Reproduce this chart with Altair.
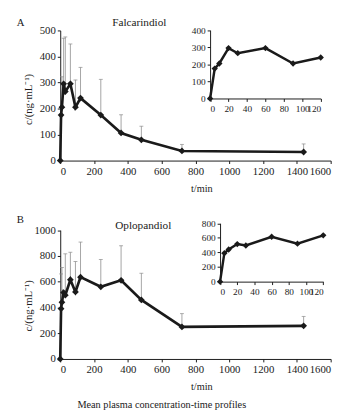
import altair as alt
import pandas as pd

FONT = "Liberation Serif"
INK = "#1a1a1a"
GREY = "#8c8c8c"

# ---- data ----
times = [0, 5, 10, 20, 30, 60, 90, 120, 240, 360, 480, 720, 1440]
a_mean = [0, 175, 205, 295, 265, 295, 205, 240, 175, 106, 80, 37, 33]
a_upper = [None, None, 322, 470, 475, 448, 310, 358, 312, 176, 132, 62, 64]
b_mean = [0, 390, 440, 515, 495, 615, 520, 635, 560, 610, 458, 249, 257]
b_upper = [None, 660, 710, None, 816, 828, 756, 907, 772, 879, 665, 352, 330]

main_x_ticks = [0, 200, 400, 600, 800, 1000, 1200, 1400, 1600]
inset_x_ticks = [0, 20, 40, 60, 80, 100, 120]
a_y_ticks = [0, 100, 200, 300, 400, 500]
a_inset_y_ticks = [0, 100, 200, 300, 400]
b_y_ticks = [0, 200, 400, 600, 800, 1000]
b_inset_y_ticks = [0, 200, 400, 600, 800]

W = 277          # plot-area width
H = 336.5        # plot-area height (both panels)


def text_layer(txt, x, y, size=11, angle=0, align="left", style="normal"):
    return alt.Chart(pd.DataFrame({"k": [0]})).mark_text(
        text=txt, font=FONT, fontSize=size, angle=angle, align=align,
        baseline="middle", color=INK, fontStyle=style
    ).encode(x=alt.value(x), y=alt.value(y))


def series(mean, upper, xdom, xr, ydom, yr, xticks, yticks, x_pos, y_pos,
           with_err, lsize, lw, psize, tmax=None):
    df = pd.DataFrame({"t": times, "c": mean, "u": upper})
    if tmax is not None:
        df = df[df["t"] <= tmax]
    xs = alt.Scale(domain=xdom, range=xr, nice=False)
    ys = alt.Scale(domain=ydom, range=yr, nice=False)
    xax = alt.Axis(values=xticks, title=None, orient="bottom", format="d",
                   offset=y_pos - H, labelOverlap=False, labelFontSize=lsize)
    yax = alt.Axis(values=yticks, title=None, orient="left", format="d",
                   offset=-x_pos, labelFontSize=lsize)
    X = alt.X("t:Q", scale=xs, axis=xax)
    base = alt.Chart(df)
    layers = []
    if with_err:
        ev = base.transform_filter("isValid(datum.u)")
        layers.append(ev.mark_rule(color=GREY, strokeWidth=0.8).encode(
            x=X, y=alt.Y("c:Q", scale=ys, axis=yax), y2="u:Q"))
        layers.append(ev.mark_tick(orient="horizontal", size=4, thickness=1,
                                   color=GREY).encode(
            x=X, y=alt.Y("u:Q", scale=ys, axis=yax)))
    layers.append(base.mark_line(color=INK, strokeWidth=lw).encode(
        x=X, y=alt.Y("c:Q", scale=ys, axis=yax)))
    layers.append(base.mark_point(shape="diamond", filled=True, size=psize,
                                  color=INK, opacity=1).encode(
        x=X, y=alt.Y("c:Q", scale=ys, axis=yax)))
    return alt.layer(*layers)


# panel A (plot area y 0 .. 133.3)
a_main = series(a_mean, a_upper, [0, 1600], [0, W], [0, 500], [133.3, 0],
                main_x_ticks, a_y_ticks, 0, 133.3, True, 11, 2.7, 48)
a_ins = series(a_mean, a_upper, [0, 120], [153.5, 266.8], [0, 400], [69.7, -0.3],
               inset_x_ticks, a_inset_y_ticks, 153.5, 69.7, False, 9.5, 2.5, 42,
               tmax=120)
# panel B (plot area y 204.5 .. 336.5)
b_main = series(b_mean, b_upper, [0, 1600], [0, W], [0, 1000], [336.5, 204.5],
                main_x_ticks, b_y_ticks, 0, 336.5, True, 11, 2.7, 48)
b_ins = series(b_mean, b_upper, [0, 120], [163.7, 269.4], [0, 800], [257.3, 197.5],
               inset_x_ticks, b_inset_y_ticks, 163.7, 257.3, False, 9.5, 2.5, 42,
               tmax=120)

texts = [
    text_layer("A", -44.5, -8),
    text_layer("Falcarindiol", 81, -8, size=11.5, align="center"),
    text_layer("c/(ng·mL⁻¹)", -31.5, 70.7, angle=270, align="center"),
    text_layer("t/min", 145, 162.3, size=10.5, align="center"),
    text_layer("B", -44.5, 194),
    text_layer("Oplopandiol", 85, 200.7, size=11.5, align="center"),
    text_layer("c/(ng·mL⁻¹)", -31.5, 282, angle=270, align="center"),
    text_layer("t/min", 145, 365.7, size=10.5, align="center"),
    text_layer("Mean plasma concentration-time profiles", 104, 384,
               size=10.5, align="center"),
]

chart = alt.layer(a_main, a_ins, b_main, b_ins, *texts).resolve_scale(
    x="independent", y="independent"
).properties(
    width=W, height=H,
    autosize=alt.AutoSizeParams(type="none"),
    padding={"left": 53.5, "top": 18, "right": 7.5, "bottom": 56.5},
).configure_view(stroke=None).configure_axis(
    labelFont=FONT, labelFontSize=11, labelColor=INK, domainColor=INK,
    tickColor=INK, tickSize=3, grid=False, labelPadding=2, domainWidth=1
)

chart.save("out.html", embed_options={"renderer": "svg", "actions": False})
